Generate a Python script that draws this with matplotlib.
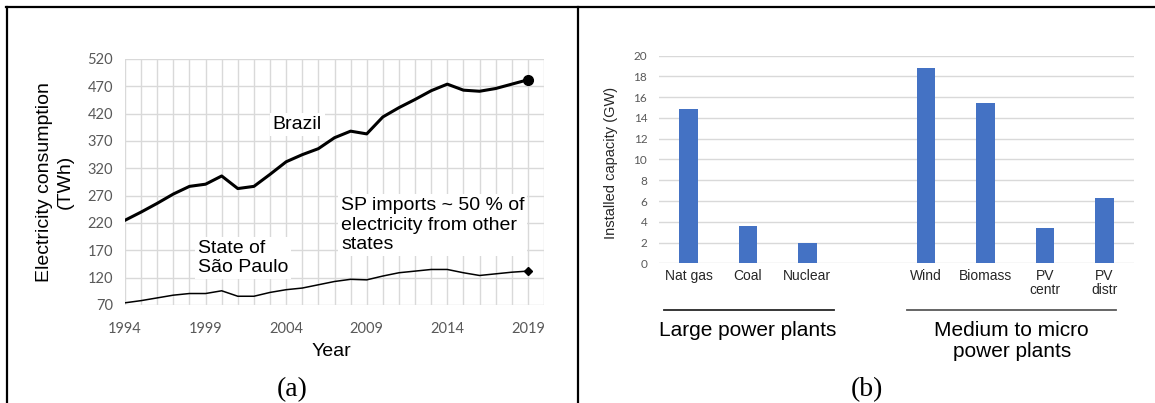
import matplotlib
import matplotlib.pyplot as plt
from matplotlib.lines import Line2D

matplotlib.use('agg')

# Annual electricity consumption (TWh)
years = list(range(1994, 2020))
brazil = [225, 240, 256, 273, 287, 291, 306, 283, 287, 309,
          332, 345, 356, 376, 388, 383, 414, 431, 446, 462,
          474, 463, 461, 466, 474, 482]
sao_paulo = [74, 78, 83, 88, 91, 91, 96, 86, 86, 93,
             98, 101, 107, 113, 117, 116, 123, 129, 132, 135,
             135, 129, 124, 127, 130, 132]
year_labels = [1994, 1999, 2004, 2009, 2014, 2019]
twh_ticks = list(range(70, 521, 50))

# Installed capacity (GW) by plant type
large_plants = ['Nat gas', 'Coal', 'Nuclear']
large_gw = [14.9, 3.6, 2.0]
small_plants = ['Wind', 'Biomass', 'PV\ncentr', 'PV\ndistr']
small_gw = [18.8, 15.4, 3.4, 6.3]
gw_ticks = list(range(0, 21, 2))

plt.rcParams['font.family'] = ['Liberation Sans', 'DejaVu Sans']

W, H = 1155, 403


def fx(px):
    return px / W


def fy(py):
    return 1 - py / H


fig = plt.figure(figsize=(W / 100, H / 100), dpi=100)

grid_col = '#d9d9d9'
tick_col = '#595959'

# ---- (a) consumption lines ----
ax1 = fig.add_axes([fx(125), fy(305), fx(544) - fx(125), fy(59) - fy(305)])
ax1.plot(years, brazil, color='black', lw=2.2, zorder=3)
ax1.plot(years[-1], brazil[-1], 'o', color='black', ms=7, zorder=4)
ax1.plot(years, sao_paulo, color='black', lw=1.1, zorder=3)
ax1.plot(years[-1], sao_paulo[-1], 'D', color='black', ms=4.5, zorder=4)
ax1.set_xlim(1994, 2020)
ax1.set_ylim(70, 520)
ax1.set_xticks(range(1994, 2021), minor=True)
ax1.set_xticks(year_labels)
ax1.set_xticklabels([str(y) for y in year_labels])
ax1.set_yticks(twh_ticks)
ax1.grid(which='both', color=grid_col, lw=1)
ax1.set_axisbelow(True)
for s in ax1.spines.values():
    s.set_visible(False)
ax1.tick_params(axis='both', which='both', length=0, labelcolor=tick_col, labelsize=10.5)
ax1.tick_params(axis='y', pad=8.5)
ax1.tick_params(axis='x', pad=12)
for lbl in ax1.get_xticklabels() + ax1.get_yticklabels():
    lbl.set_fontfamily('Lato')

box = dict(facecolor='white', edgecolor='none', pad=2)
ax1.text(2004.7, 400, 'Brazil', fontsize=14, ha='center', va='center', bbox=box, zorder=5)
ax1.text(2007.4, 216, 'SP imports ~ 50 % of\nelectricity from other\nstates',
         fontsize=14, ha='left', va='center', bbox=box, zorder=5)
ax1.text(1998.5, 156, 'State of\nSão Paulo', fontsize=14, ha='left', va='center',
         bbox=box, zorder=5)

fig.text(fx(55), fy(182), 'Electricity consumption\n(TWh)', rotation=90, fontsize=14,
         ha='center', va='center', multialignment='center', linespacing=1.3)
fig.text(fx(331), fy(352), 'Year', fontsize=14, ha='center', va='center')

# ---- (b) installed capacity bars ----
ax2 = fig.add_axes([fx(659), fy(263.3), fx(1134) - fx(659), fy(55.7) - fy(263.3)])
large_x = list(range(len(large_plants)))
small_x = [len(large_plants) + 1 + i for i in range(len(small_plants))]
ax2.bar(large_x, large_gw, width=0.31, color='#4472c4', zorder=3)
ax2.bar(small_x, small_gw, width=0.31, color='#4472c4', zorder=3)
ax2.set_xlim(-0.5, 7.5)
ax2.set_ylim(0, 20)
ax2.set_yticks(gw_ticks)
ax2.set_xticks(large_x + small_x)
ax2.set_xticklabels(large_plants + small_plants, fontsize=10, color='#262626',
                    linespacing=1.0)
ax2.yaxis.grid(True, color=grid_col, lw=1)
ax2.set_axisbelow(True)
for s in ax2.spines.values():
    s.set_visible(False)
ax2.tick_params(axis='both', length=0)
ax2.tick_params(axis='y', labelcolor=tick_col, labelsize=8.5, pad=8.5)
ax2.tick_params(axis='x', pad=4)
for lbl in ax2.get_yticklabels():
    lbl.set_fontfamily('Lato')

fig.text(fx(611), fy(163), 'Installed capacity (GW)', rotation=90, fontsize=10.5,
         ha='center', va='center', color='#262626')

xt = ax2.get_xaxis_transform()
ax2.plot([-0.42, 2.45], [-0.225, -0.225], transform=xt, clip_on=False,
         color='#262626', lw=1.3)
ax2.plot([3.68, 7.2], [-0.225, -0.225], transform=xt, clip_on=False,
         color='#595959', lw=1.3)
ax2.text(1.0, -0.278, 'Large power plants', transform=xt, fontsize=15,
         ha='center', va='top')
ax2.text(5.44, -0.278, 'Medium to micro\npower plants', transform=xt, fontsize=15,
         ha='center', va='top', linespacing=1.1)

# ---- panel captions and table frame ----
fig.text(fx(292), fy(396), '(a)', fontsize=20, family='Liberation Serif',
         ha='center', va='baseline')
fig.text(fx(867), fy(396), '(b)', fontsize=20, family='Liberation Serif',
         ha='center', va='baseline')

for xs, ys in [([fx(6), 1], [fy(6.7), fy(6.7)]),
               ([fx(7), fx(7)], [fy(6.7), 0]),
               ([fx(577.7), fx(577.7)], [fy(6.7), 0])]:
    fig.add_artist(Line2D(xs, ys, transform=fig.transFigure, color='black', lw=1.6))

fig.savefig('out.png', dpi=100)
